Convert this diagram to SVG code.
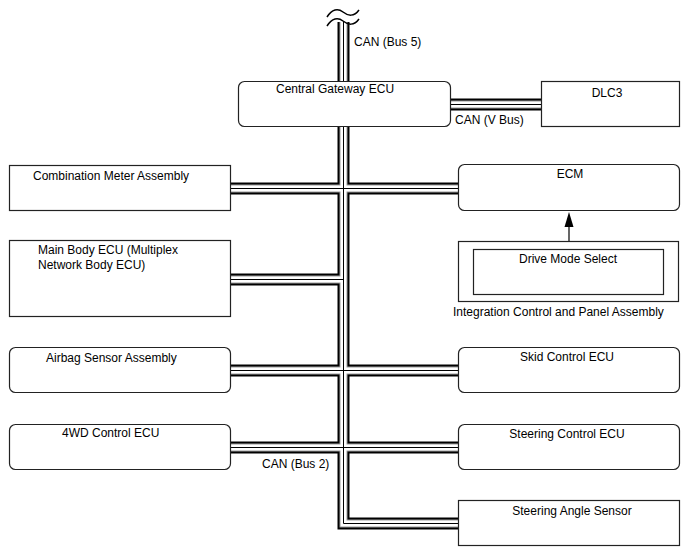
<svg xmlns="http://www.w3.org/2000/svg" width="688" height="560" viewBox="0 0 688 560">
<style>
text{font-family:"Liberation Sans",Arial,sans-serif;font-size:12px;fill:#000}
.box{fill:#fff;stroke:#222;stroke-width:1.2}
.m{text-anchor:middle}
.bus{fill:none;stroke-linejoin:miter;stroke-linecap:butt}
</style>
<defs>
<path id="buspath" d="M343.5,22 V81 M343.5,127 V523.5 H459 M230,188.5 H459 M230,279.5 H343.5 M230,370.5 H459 M230,447.5 H459 M450,104.5 H541"/>
</defs>
<rect width="688" height="560" fill="#fff"/>
<g id="connectors">
<use href="#buspath" class="bus" stroke="#000" stroke-width="12"/>
<use href="#buspath" class="bus" stroke="#999" stroke-width="8"/>
<use href="#buspath" class="bus" stroke="#fff" stroke-width="6"/>
<use href="#buspath" class="bus" stroke="#000" stroke-width="1"/>
<path d="M327,17 C332,9 338,8 343,12 C348,16 354,17 359,10" fill="none" stroke="#000" stroke-width="1.5"/>
<path d="M327,26 C332,18 338,17 343,21 C348,25 354,26 359,19" fill="none" stroke="#000" stroke-width="1.5"/>
<line x1="569" y1="249" x2="569" y2="225" stroke="#000" stroke-width="1.2"/>
<polygon points="564.5,227 573.5,227 569,212" fill="#000"/>
<text x="354" y="46">CAN (Bus 5)</text>
<text x="455" y="124">CAN (V Bus)</text>
<text x="262" y="468">CAN (Bus 2)</text>
</g>
<g id="gateway"><rect class="box" x="238.5" y="81.5" width="212" height="45" rx="6"/><text x="276" y="93">Central Gateway ECU</text></g>
<g id="dlc3"><rect class="box" x="541.5" y="81.5" width="138" height="45"/><text class="m" x="607" y="97">DLC3</text></g>
<g id="combination-meter"><rect class="box" x="9.5" y="165.5" width="221" height="45"/><text x="33" y="180">Combination Meter Assembly</text></g>
<g id="ecm"><rect class="box" x="458.5" y="164.5" width="221" height="46" rx="6"/><text class="m" x="570" y="178">ECM</text></g>
<g id="main-body-ecu"><rect class="box" x="9.5" y="240.5" width="221" height="76"/><text x="38" y="254">Main Body ECU (Multiplex</text><text x="38" y="269">Network Body ECU)</text></g>
<g id="integration-panel"><rect class="box" x="458.5" y="241.5" width="220" height="60"/><text x="453" y="316">Integration Control and Panel Assembly</text></g>
<g id="drive-mode-select"><rect class="box" x="473.5" y="249.5" width="190" height="45"/><text class="m" x="568" y="263">Drive Mode Select</text></g>
<g id="airbag"><rect class="box" x="9.5" y="347.5" width="221" height="45" rx="6"/><text x="46" y="362">Airbag Sensor Assembly</text></g>
<g id="skid-control"><rect class="box" x="458.5" y="347.5" width="221" height="45" rx="6"/><text class="m" x="567" y="361">Skid Control ECU</text></g>
<g id="4wd-control"><rect class="box" x="9.5" y="424.5" width="221" height="45" rx="6"/><text x="62" y="437">4WD Control ECU</text></g>
<g id="steering-control"><rect class="box" x="458.5" y="424.5" width="221" height="45" rx="6"/><text class="m" x="567" y="438">Steering Control ECU</text></g>
<g id="steering-angle"><rect class="box" x="458.5" y="500.5" width="221" height="45"/><text class="m" x="572" y="515">Steering Angle Sensor</text></g>
</svg>
